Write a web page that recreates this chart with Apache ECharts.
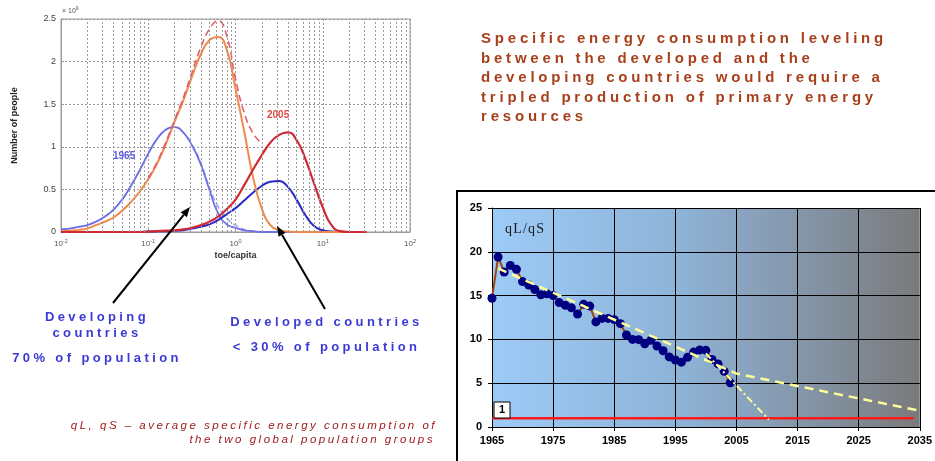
<!DOCTYPE html>
<html>
<head>
<meta charset="utf-8">
<script src="https://cdn.jsdelivr.net/npm/echarts@6/dist/echarts.min.js"></script>
<style>
  html, body { margin: 0; padding: 0; background: #fff; }
  #wrap { position: relative; width: 935px; height: 461px; overflow: hidden; }
  #chart { position: absolute; left: 0; top: 0; width: 935px; height: 461px; }
  .t { position: absolute; white-space: nowrap; pointer-events: none;
       font-family: Arial, 'Liberation Sans', sans-serif; }
  .title { left: 481px; top: 28px; font-size: 15px; font-weight: bold; color: #a8401c;
           letter-spacing: 3.8px; line-height: 19.5px; }
  .blue { font-size: 13px; font-weight: bold; color: #3b3bd4; letter-spacing: 3.4px;
          text-align: center; line-height: 16px; }
  .note { font-size: 11.5px; font-style: italic; color: #a01c1c; letter-spacing: 2.5px;
          text-align: right; line-height: 14px; }
  .ratio { left: 505px; top: 221px; font-family: 'Liberation Serif', 'Times New Roman', serif;
           font-size: 14px; color: #1a1a1a; letter-spacing: 1.2px; }
</style>
</head>
<body>
<div id="wrap">
  <div id="chart"></div>
  <div class="t title">Specific energy consumption leveling<br>between the developed and the<br>developing countries would require a<br>tripled production of primary energy<br>resources</div>
  <div class="t blue" style="left:0;width:194px;top:309px;">Developing</div>
  <div class="t blue" style="left:0;width:194px;top:325px;">countries</div>
  <div class="t blue" style="left:0;width:194px;top:350px;">70% of population</div>
  <div class="t blue" style="left:225px;width:203px;top:314px;">Developed countries</div>
  <div class="t blue" style="left:225px;width:203px;top:339px;">&lt; 30% of population</div>
  <div class="t note" style="left:0;width:437px;top:418px;">qL, qS – average specific energy consumption of</div>
  <div class="t note" style="left:0;width:435px;top:432px;">the two global population groups</div>
  <div class="t ratio">qL/qS</div>
</div>
<script>
// ---- Distribution of people by energy use (toe/capita), log10 sample points ----
const logToe = [-2.0, -1.9, -1.8, -1.7, -1.6, -1.5, -1.4, -1.3, -1.2, -1.1,
                -1.0, -0.9, -0.8, -0.7, -0.6, -0.5, -0.4, -0.3, -0.2, -0.1,
                 0.0,  0.1,  0.2,  0.3,  0.4,  0.5,  0.6,  0.7,  0.8,  0.9,
                 1.0,  1.1,  1.2,  1.3,  1.4,  1.5];
// values in units of 10^9 people
const developing1965 = [0.03, 0.04, 0.06, 0.08, 0.12, 0.18, 0.26, 0.38, 0.54, 0.72,
                        0.92, 1.09, 1.20, 1.23, 1.17, 1.02, 0.80, 0.50, 0.22, 0.09,
                        0.05, 0.02, 0.01, 0, 0, 0, 0, 0, 0, 0,
                        0, 0, 0, 0, 0, 0];
const developing1965b = [0.03, 0.04, 0.06, 0.08, 0.12, 0.18, 0.26, 0.38, 0.54, 0.72,
                         0.92, 1.09, 1.20, 1.23, 1.17, 1.03, 0.82, 0.53, 0.30, 0.16,
                         0.08, 0.03, 0.01, 0, 0, 0, 0, 0, 0, 0,
                         0, 0, 0, 0, 0, 0];
const developed1965 = [0, 0, 0, 0, 0, 0, 0, 0, 0, 0,
                       0.005, 0.008, 0.01, 0.015, 0.02, 0.04, 0.06, 0.09, 0.14, 0.21,
                       0.28, 0.37, 0.46, 0.54, 0.59, 0.60, 0.53, 0.38, 0.20, 0.07,
                       0.02, 0.005, 0, 0, 0, 0];
const developing2005 = [0.01, 0.015, 0.025, 0.04, 0.08, 0.12, 0.17, 0.25, 0.35, 0.47,
                        0.62, 0.80, 1.03, 1.29, 1.54, 1.82, 2.08, 2.25, 2.29, 2.14,
                        1.68, 1.18, 0.65, 0.28, 0.08, 0.02, 0.005, 0, 0, 0,
                        0, 0, 0, 0, 0, 0];
const total2005 = [null, null, null, null, null, null, null, null, null, null,
                   0.63, 0.82, 1.05, 1.31, 1.57, 1.87, 2.16, 2.38, 2.48, 2.30,
                   1.80, 1.40, 1.16, 1.04, null, null, null, null, null, null,
                   null, null, null, null, null, null];
const developed2005 = [0, 0, 0, 0, 0, 0, 0, 0, 0, 0,
                       0.005, 0.01, 0.015, 0.02, 0.03, 0.05, 0.08, 0.12, 0.18, 0.27,
                       0.38, 0.55, 0.73, 0.90, 1.05, 1.14, 1.17, 1.08, 0.86, 0.57,
                       0.29, 0.08, 0.01, 0, 0, 0];
const decadeExponents = [-2, -1, 0, 1, 2];
const peopleTicks = [0, 0.5, 1, 1.5, 2, 2.5];

// ---- Ratio of specific energy consumption qL/qS ----
const years = [1965, 1966, 1967, 1968, 1969, 1970, 1971, 1972, 1973, 1974,
               1975, 1976, 1977, 1978, 1979, 1980, 1981, 1982, 1983, 1984,
               1985, 1986, 1987, 1988, 1989, 1990, 1991, 1992, 1993, 1994,
               1995, 1996, 1997, 1998, 1999, 2000, 2001, 2002, 2003, 2004];
const qRatio = [14.7, 19.4, 17.7, 18.45, 18.0, 16.6, 16.2, 15.7, 15.1, 15.2,
                15.0, 14.2, 13.9, 13.6, 12.9, 14.0, 13.8, 12.0, 12.4, 12.4,
                12.25, 11.8, 10.5, 10.0, 9.97, 9.5, 9.9, 9.25, 8.7, 8.0,
                7.65, 7.4, 7.95, 8.55, 8.8, 8.75, 7.7, 7.2, 6.35, 5.05];
const trendYears = [1966, 2005, 2035];
const trendValues = [18.1, 6.1, 1.85];
const steepYears = [2000, 2010.3];
const steepValues = [8.4, 0.84];
const parityYears = [1965, 2034];
const parityValues = [1, 1];
const yearTicks = [1965, 1975, 1985, 1995, 2005, 2015, 2025, 2035];
const ratioTicks = [0, 5, 10, 15, 20, 25];

const toe = logToe.map(e => Math.pow(10, e));
const pairs = vals => toe.map((t, i) => [t, vals[i]]).filter(p => p[1] !== null);

// minor gridlines at 2..9 x 10^n
const minorToe = [];
for (let n = -2; n < 2; n++) {
  for (let k = 2; k <= 9; k++) minorToe.push(k * Math.pow(10, n));
}

function arrow(x1, y1, x2, y2) {
  const a = Math.atan2(y2 - y1, x2 - x1), L = 10, W = 4;
  const bx = x2 - L * Math.cos(a), by = y2 - L * Math.sin(a);
  return [
    { type: 'line', shape: { x1: x1, y1: y1, x2: bx, y2: by },
      style: { stroke: '#000', lineWidth: 2 }, z: 20 },
    { type: 'polygon', shape: { points: [[x2, y2],
        [bx + W * Math.sin(a), by - W * Math.cos(a)],
        [bx - W * Math.sin(a), by + W * Math.cos(a)]] },
      style: { fill: '#000' }, z: 20 }
  ];
}

const chart = echarts.init(document.getElementById('chart'), null, { renderer: 'canvas' });
const FONT = 'Arial, "Liberation Sans", sans-serif';
const dotted = { color: '#9a9a9a', width: 1, type: [2, 2] };

function curve(name, vals, color, width, dash, opacity) {
  return {
    name: name, type: 'line', xAxisIndex: 0, yAxisIndex: 0,
    data: pairs(vals), showSymbol: false, symbol: 'none',
    smooth: 0.5, z: 3,
    lineStyle: { color: color, width: width, type: dash || 'solid', opacity: opacity || 1 }
  };
}

chart.setOption({
  animation: false,
  grid: [
    { left: 61, right: 525, top: 19, bottom: 229, show: true,
      borderColor: '#9a9a9a', borderWidth: 1, backgroundColor: '#fff' },
    { left: 492, right: 12, top: 208, bottom: 34, show: true, borderWidth: 0,
      backgroundColor: { type: 'linear', x: 0, y: 0, x2: 1, y2: 0,
        colorStops: [ { offset: 0, color: '#9ccbf7' }, { offset: 0.45, color: '#8eb2d6' },
                      { offset: 1, color: '#7a7a7c' } ] } }
  ],
  xAxis: [
    { gridIndex: 0, type: 'log', logBase: 10, min: Math.pow(10, decadeExponents[0]),
      max: Math.pow(10, decadeExponents[decadeExponents.length - 1]),
      name: 'toe/capita', nameLocation: 'middle', nameGap: 19,
      nameTextStyle: { fontFamily: FONT, fontSize: 9, fontWeight: 'bold', color: '#333' },
      axisLine: { lineStyle: { color: '#9a9a9a' } },
      axisTick: { inside: true, length: 3, lineStyle: { color: '#9a9a9a' } },
      splitLine: { show: true, lineStyle: dotted },
      axisLabel: { fontFamily: FONT, fontSize: 8, color: '#555', margin: 6,
        formatter: v => '10{e|' + Math.round(Math.log10(v)) + '}',
        rich: { e: { fontSize: 5.5, color: '#555', padding: [0, 0, 6, 0] } } } },
    { gridIndex: 1, type: 'value', min: yearTicks[0], max: yearTicks[yearTicks.length - 1],
      interval: yearTicks[1] - yearTicks[0],
      axisLine: { lineStyle: { color: '#000', width: 1 } },
      axisTick: { length: 4, lineStyle: { color: '#000' } },
      splitLine: { show: true, lineStyle: { color: '#000', width: 1 } },
      axisLabel: { fontFamily: FONT, fontSize: 11, fontWeight: 'bold', color: '#000', margin: 8,
        formatter: v => String(v) } }
  ],
  yAxis: [
    { gridIndex: 0, type: 'value', min: peopleTicks[0], max: peopleTicks[peopleTicks.length - 1],
      interval: peopleTicks[1] - peopleTicks[0],
      name: 'Number of people', nameLocation: 'middle', nameGap: 42,
      nameTextStyle: { fontFamily: FONT, fontSize: 9, fontWeight: 'bold', color: '#222' },
      axisLine: { show: true, lineStyle: { color: '#9a9a9a' } },
      axisTick: { inside: true, length: 3, lineStyle: { color: '#9a9a9a' } },
      splitLine: { show: true, lineStyle: dotted },
      axisLabel: { fontFamily: FONT, fontSize: 9, color: '#444', margin: 5 } },
    { gridIndex: 1, type: 'value', min: ratioTicks[0], max: ratioTicks[ratioTicks.length - 1],
      interval: ratioTicks[1] - ratioTicks[0],
      axisLine: { show: true, lineStyle: { color: '#000', width: 1 } },
      axisTick: { show: true, length: 4, lineStyle: { color: '#000' } },
      splitLine: { show: true, lineStyle: { color: '#000', width: 1 } },
      axisLabel: { fontFamily: FONT, fontSize: 11, fontWeight: 'bold', color: '#000', margin: 10 } }
  ],
  series: [
    { type: 'line', xAxisIndex: 0, yAxisIndex: 0, data: [[1, 0]], symbol: 'none',
      lineStyle: { opacity: 0 }, z: 1, silent: true,
      markLine: { silent: true, symbol: 'none', label: { show: false },
        lineStyle: dotted, animation: false,
        data: minorToe.map(v => ({ xAxis: v })) } },
    curve('Developing 1965 (alt)', developing1965b, '#9a9af0', 1.5, [6, 3], 0.9),
    curve('Developing 1965', developing1965, '#6f6fe6', 1.8),
    curve('Developed 1965', developed1965, '#2a2ac8', 2),
    curve('Developing 2005', developing2005, '#f08a4a', 2),
    curve('Total 2005', total2005, '#e0606e', 1.6, [7, 4]),
    curve('Developed 2005', developed2005, '#d02a36', 2.2),
    { type: 'line', xAxisIndex: 1, yAxisIndex: 1, data: parityYears.map((y, i) => [y, parityValues[i]]),
      symbol: 'none', lineStyle: { color: '#ff1a1a', width: 2.5 }, z: 3 },
    { type: 'line', xAxisIndex: 1, yAxisIndex: 1, data: years.map((y, i) => [y, qRatio[i]]),
      symbol: 'circle', symbolSize: 9, showAllSymbol: true,
      itemStyle: { color: '#000080' }, lineStyle: { color: '#a2420c', width: 2 }, z: 4 },
    { type: 'line', xAxisIndex: 1, yAxisIndex: 1, data: trendYears.map((y, i) => [y, trendValues[i]]),
      symbol: 'none', lineStyle: { color: '#ffff99', width: 2.5, type: [9, 6] }, z: 5 },
    { type: 'line', xAxisIndex: 1, yAxisIndex: 1, data: steepYears.map((y, i) => [y, steepValues[i]]),
      symbol: 'none', lineStyle: { color: '#ffff99', width: 2, type: [7, 3, 2, 3] }, z: 5 }
  ],
  graphic: [
    { type: 'rect', shape: { x: 457, y: 191, width: 500, height: 300 },
      style: { fill: 'none', stroke: '#000', lineWidth: 2 }, z: 0 },
    { type: 'text', x: 62, y: 6, style: { text: '× 10{s|9}', fontFamily: FONT, fontSize: 7, fill: '#555',
      rich: { s: { fontSize: 5, fill: '#555', padding: [0, 0, 5, 0] } } }, z: 10 },
    { type: 'text', x: 113, y: 151, style: { text: '1965', fontFamily: FONT, fontSize: 10,
      fontWeight: 'bold', fill: '#5a5ae0' }, z: 10 },
    { type: 'text', x: 267, y: 110, style: { text: '2005', fontFamily: FONT, fontSize: 10,
      fontWeight: 'bold', fill: '#e04848' }, z: 10 },
    { type: 'rect', shape: { x: 494, y: 402, width: 16, height: 16 },
      style: { fill: '#fff', stroke: '#000', lineWidth: 1 }, z: 10 },
    { type: 'text', x: 502, y: 410, style: { text: '1', fontFamily: FONT, fontSize: 11,
      fontWeight: 'bold', fill: '#000', align: 'center', verticalAlign: 'middle' }, z: 11 }
  ].concat(arrow(113, 303, 190, 207), arrow(325, 309, 277, 226))
});
</script>
</body>
</html>
